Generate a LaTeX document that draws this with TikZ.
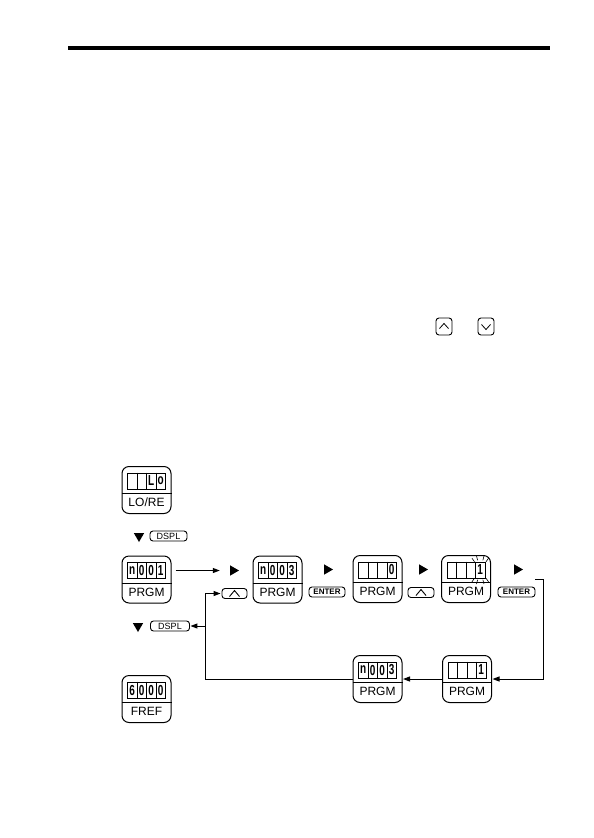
\documentclass[tikz,border=0pt]{standalone}
\usepackage{fontspec}
\setmainfont{Liberation Sans}
\usetikzlibrary{shapes.geometric, arrows.meta, positioning, calc}

% one operator panel: box, display with 4 cells, key label below
\newcommand{\opunit}[4]{%
  \node[opbox] (#1) at (#2) {};
  \draw[line width=0.7pt] ([yshift=-3.5pt]#1.west) -- ([yshift=-3.5pt]#1.east);
  \node[display] (#1d) at ([yshift=9pt]#1.center) {};
  \foreach \k in {-1,0,1}
    \draw[line width=0.7pt] ([xshift=\k*9.5pt]#1d.north) -- ([xshift=\k*9.5pt]#1d.south);
  \foreach \ch [count=\i] in {#4}
    \node[digit] at ([xshift={(\i-2.5)*9.5pt}]#1d.center) {\scalebox{1}[1.45]{\ch}};
  \node[paneltext] (#1l) at ([yshift=-12.5pt]#1.center) {#3};
}

\begin{document}
\begin{tikzpicture}[
  x=1pt, y=-1pt,
  opbox/.style={draw, line width=1pt, rounded corners=7pt, inner sep=0,
    minimum width=49pt, minimum height=47pt},
  display/.style={draw, line width=0.9pt, inner sep=0,
    minimum width=38pt, minimum height=16pt},
  digit/.style={font=\fontsize{10}{10}\selectfont\bfseries, inner sep=0},
  paneltext/.style={font=\fontsize{12}{12}\selectfont, inner sep=0},
  keybox/.style={draw, line width=0.9pt, rounded corners=3pt, inner sep=0,
    minimum height=10pt, font=\fontsize{9}{9}\selectfont},
  rmark/.style={isosceles triangle, isosceles triangle apex angle=60, fill,
    inner sep=0, minimum height=9pt},
  dmark/.style={rmark, shape border rotate=-90},
  link/.style={line width=1pt, -{Triangle[length=7pt,width=5pt]}},
]
  \useasboundingbox (0,0) rectangle (594,838);

  % ── Header rule ──
  \draw[line width=4pt] (68,48) -- (550,48);

  % ── Up / down keys in the text ──
  \node[keybox, minimum width=16pt, minimum height=17pt] (kup) at (444,326.5) {};
  \draw[line width=0.8pt] ([xshift=-4.5pt,yshift=-2pt]kup.center) -- ([yshift=3pt]kup.center)
    -- ([xshift=4.5pt,yshift=-2pt]kup.center);
  \node[keybox, minimum width=16pt, minimum height=17pt] (kdn) at (486,326.5) {};
  \draw[line width=0.8pt] ([xshift=-4.5pt,yshift=2pt]kdn.center) -- ([yshift=-3pt]kdn.center)
    -- ([xshift=4.5pt,yshift=2pt]kdn.center);

  % ── Left column ──
  \opunit{lore}{146.5,490}{LO/RE}{{},{},L,o}
  \node[dmark] (d1) at (139,536) {};
  \node[keybox, minimum width=37pt] (dspl1) at (168.5,536) {DSPL};

  \opunit{p1}{146.5,579.5}{PRGM}{n,0,0,1}

  \node[dmark] (d2) at (138,626) {};
  \node[keybox, minimum width=39pt] (dspl2) at (170,626) {DSPL};

  \opunit{fref}{146.5,699}{FREF}{6,0,0,0}

  % ── Top row ──
  \node[rmark] (m1) at (233,570.5) {};
  \node[keybox, minimum width=25pt] (up1) at (234.5,593.5) {};
  \draw[line width=0.9pt] ([xshift=-5pt,yshift=-3pt]up1.center) -- ([yshift=3pt]up1.center)
    -- ([xshift=5pt,yshift=-3pt]up1.center);
  \opunit{p2}{277.5,579.5}{PRGM}{n,0,0,3}

  \node[rmark] (m2) at (327,569.5) {};
  \node[keybox, minimum width=36pt, font=\fontsize{8}{8}\selectfont\bfseries] (ent1) at (327,592) {ENTER};
  \opunit{p3}{377.5,579}{PRGM}{{},{},{},0}

  \node[rmark] (m3) at (422,569.5) {};
  \node[keybox, minimum width=26pt] (up2) at (421,592.5) {};
  \draw[line width=0.9pt] ([xshift=-5pt,yshift=-3pt]up2.center) -- ([yshift=3pt]up2.center)
    -- ([xshift=5pt,yshift=-3pt]up2.center);
  \opunit{p4}{466,579}{PRGM}{{},{},{},1}
  % blinking digit
  \foreach \a in {55,75,105,125,-55,-75,-105,-125}
    \draw[line width=0.6pt] ([xshift=14.25pt]p4d.center) ++(\a:10pt) -- ++(\a:4.5pt);

  \node[rmark] (m4) at (517,569.5) {};
  \node[keybox, minimum width=37pt, font=\fontsize{8}{8}\selectfont\bfseries] (ent2) at (516.5,592) {ENTER};

  % ── Bottom row ──
  \opunit{p5}{467,679}{PRGM}{{},{},{},1}
  \opunit{p6}{377.5,679}{PRGM}{n,0,0,3}

  % ── Connectors ──
  \coordinate (out) at (535,579);
  \coordinate (back) at (205,626);
  \draw[link, shorten <=4pt, shorten >=10pt] (p1.east |- m1) -- (m1.west);
  \draw[link, shorten >=0.5pt] (out) -- ++(8,0) |- (p5.east);
  \draw[link, shorten >=0.5pt] (p5.west) -- (p6.east);
  \draw[link, shorten >=1pt] (p6.west) -- (p6.west -| back) |- (up1.west);
  \draw[link, shorten >=0.5pt] (back) -- (dspl2.east);

\end{tikzpicture}
\end{document}
